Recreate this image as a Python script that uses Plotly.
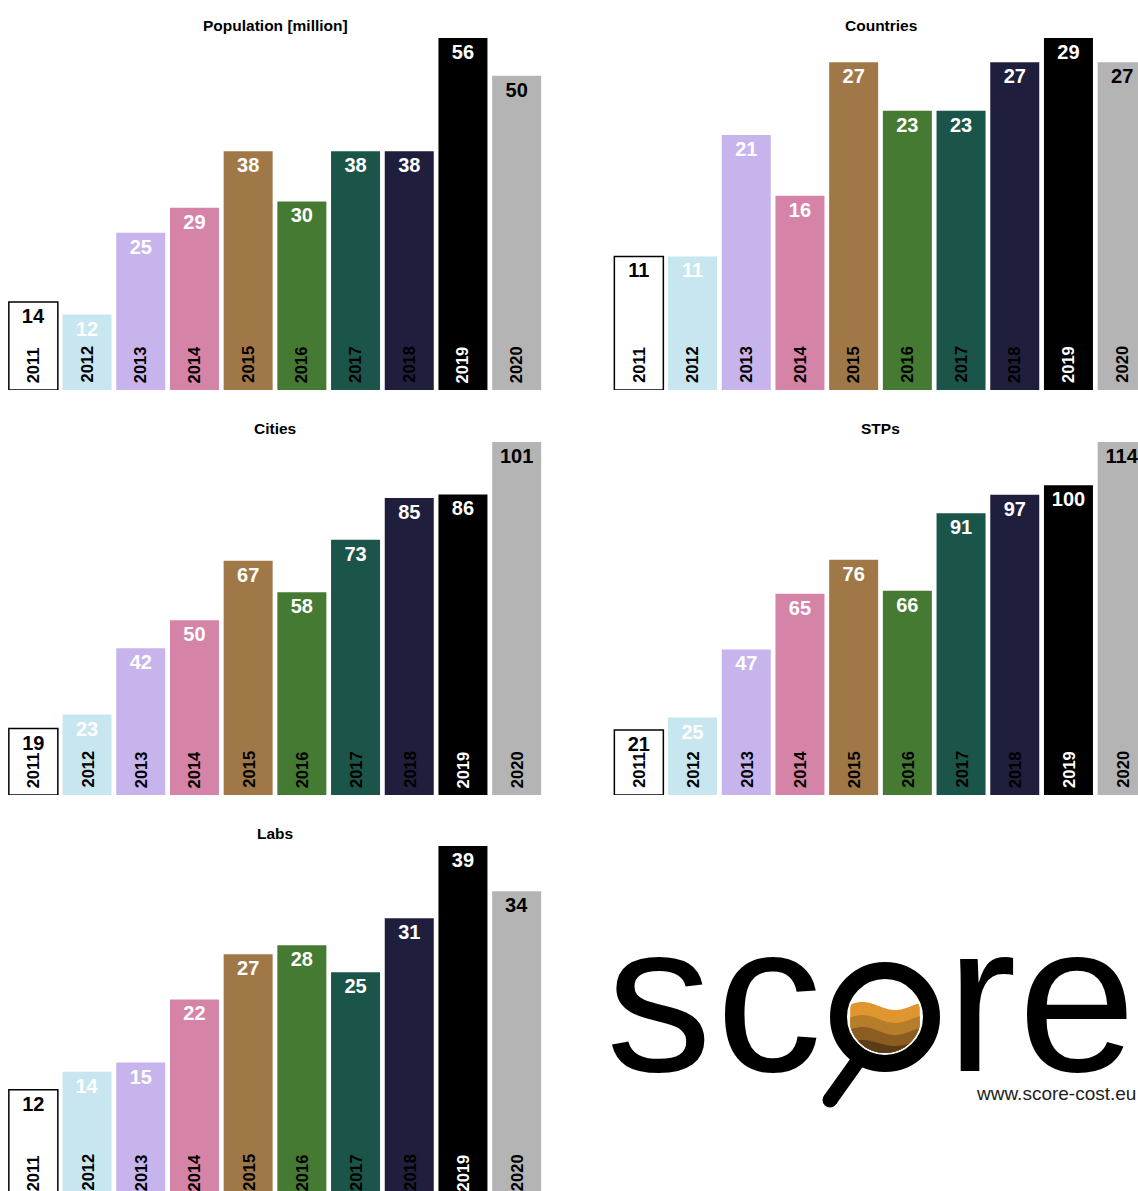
import math
import plotly.graph_objects as go

# ---- data -------------------------------------------------------------
years = ["2011", "2012", "2013", "2014", "2015", "2016", "2017", "2018", "2019", "2020"]
population = [14, 12, 25, 29, 38, 30, 38, 38, 56, 50]
countries = [11, 11, 21, 16, 27, 23, 23, 27, 29, 27]
cities = [19, 23, 42, 50, 67, 58, 73, 85, 86, 101]
stps = [21, 25, 47, 65, 76, 66, 91, 97, 100, 114]
labs = [12, 14, 15, 22, 27, 28, 25, 31, 39, 34]

titles = ["Population [million]", "Countries", "Cities", "STPs", "Labs"]

# ---- styling ----------------------------------------------------------
bar_colors = ["#ffffff", "#c8e6ef", "#c7b4ec", "#d683a8", "#a07848",
              "#457a33", "#1b5449", "#1f1e3d", "#000000", "#b4b4b4"]
value_colors = ["#000000"] + ["#ffffff"] * 8 + ["#000000"]
year_colors = ["#000000"] * 8 + ["#ffffff", "#000000"]
outline_widths = [1.5] + [0] * 9

W, H = 1138, 1191
FONT = "Liberation Sans, Arial, sans-serif"


def px(x):
    return x / W


def py(y):
    return 1 - y / H


# panel geometry (pixels): plot-area left/right, top, value-zero line, x-range end
PITCH = 53.7
left_x0 = 6.5
right_x0 = 612.0
panels = [
    dict(vals=population, x0=left_x0, x1=left_x0 + 10 * PITCH, top=38, bottom=390, xr=9.5),
    dict(vals=countries, x0=right_x0, x1=W, top=38, bottom=390, xr=-0.5 + (W - right_x0) / PITCH),
    dict(vals=cities, x0=left_x0, x1=left_x0 + 10 * PITCH, top=442, bottom=795, xr=9.5),
    dict(vals=stps, x0=right_x0, x1=W, top=442, bottom=795, xr=-0.5 + (W - right_x0) / PITCH),
    dict(vals=labs, x0=left_x0, x1=left_x0 + 10 * PITCH, top=846, bottom=1198, xr=9.5),
]

fig = go.Figure()
annotations = []

for i, (p, title) in enumerate(zip(panels, titles), start=1):
    xa = "x" if i == 1 else f"x{i}"
    ya = "y" if i == 1 else f"y{i}"
    vmax = max(p["vals"])
    bottom_px = min(p["bottom"], H)
    scale = (p["bottom"] - p["top"]) / vmax
    ymin = (p["bottom"] - bottom_px) / scale

    fig.add_trace(go.Bar(
        x=years, y=p["vals"], xaxis=xa, yaxis=ya,
        marker=dict(color=bar_colors, line=dict(color="#000000", width=outline_widths)),
        text=[str(v) for v in p["vals"]],
        textposition="inside", insidetextanchor="end", textangle=0,
        constraintext="none",
        textfont=dict(family=FONT, size=20, color=value_colors, weight="bold"),
        hoverinfo="skip", showlegend=False,
    ))

    xkey = "xaxis" if i == 1 else f"xaxis{i}"
    ykey = "yaxis" if i == 1 else f"yaxis{i}"
    fig.update_layout({
        xkey: dict(domain=[px(p["x0"]), px(p["x1"])], range=[-0.5, p["xr"]],
                   type="category", visible=False, anchor=ya),
        ykey: dict(domain=[py(bottom_px), py(p["top"])], range=[ymin, vmax],
                   visible=False, anchor=xa),
    })

    # year labels written upward inside each bar (category axis -> serial index);
    # anchored on the visible bottom of the axis, shifted to sit just above zero
    shift = 5 - (p["bottom"] - bottom_px)
    for k, (yr, col) in enumerate(zip(years, year_colors)):
        annotations.append(dict(
            x=k, y=ymin, xref=xa, yref=ya, text=f"<b>{yr}</b>", showarrow=False,
            textangle=-90, xanchor="center", yanchor="bottom", yshift=shift,
            font=dict(family=FONT, size=16.5, color=col),
        ))

    # panel title
    annotations.append(dict(
        x=px(p["x0"] + 5 * PITCH), y=py(p["top"] - 13),
        xref="paper", yref="paper", text=f"<b>{title}</b>", showarrow=False,
        xanchor="center", yanchor="middle",
        font=dict(family=FONT, size=15.5, color="#000000"),
    ))

# ---- score logo -------------------------------------------------------
logo_font = dict(family=FONT, size=212, color="#000000")
for ch, cx in [("s", 659), ("c", 769), ("r", 981), ("e", 1077)]:
    annotations.append(dict(
        x=px(cx), y=py(1118), xref="paper", yref="paper", text=ch, showarrow=False,
        xanchor="center", yanchor="bottom", font=logo_font,
    ))
annotations.append(dict(
    x=px(974), y=py(1093), xref="paper", yref="paper", text="www.score-cost.eu",
    showarrow=False, xanchor="left", yanchor="middle",
    font=dict(family=FONT, size=19, color="#222222"),
))

shapes = []
ccx, ccy = 885, 1017


def soil_path(wave_y, amp, r=36):
    top, bot = [], []
    n = 60
    for k in range(n + 1):
        x = ccx - r + 2 * r * k / n
        dx = x - ccx
        h = math.sqrt(max(r * r - dx * dx, 0))
        yt = wave_y + amp * math.sin((x - ccx) / r * math.pi * 1.1 + 0.6)
        yb = ccy + h
        yt = max(yt, ccy - h)
        if yt < yb:
            top.append((x, yt))
            bot.append((x, yb))
    pts = top + bot[::-1]
    return "M " + " L ".join(f"{px(a):.5f},{py(b):.5f}" for a, b in pts) + " Z"


for wave_y, amp, col in [(1006, 4, "#e0962e"), (1019, 4, "#b67d2a"),
                         (1031, 4, "#8c5d21"), (1043, 3, "#5c3c18")]:
    shapes.append(dict(type="path", xref="paper", yref="paper", path=soil_path(wave_y, amp),
                       fillcolor=col, line=dict(width=0)))

# magnifier ring and handle
R = 46.5
shapes.append(dict(type="circle", xref="paper", yref="paper",
                   x0=px(ccx - R), x1=px(ccx + R), y0=py(ccy + R), y1=py(ccy - R),
                   line=dict(color="#000000", width=17), fillcolor="rgba(0,0,0,0)"))
shapes.append(dict(type="line", xref="paper", yref="paper",
                   x0=px(860), y0=py(1058), x1=px(830), y1=py(1100),
                   line=dict(color="#000000", width=15)))
shapes.append(dict(type="circle", xref="paper", yref="paper",
                   x0=px(830 - 7.5), x1=px(830 + 7.5), y0=py(1100 + 7.5), y1=py(1100 - 7.5),
                   line=dict(width=0), fillcolor="#000000"))

fig.update_layout(
    width=W, height=H,
    margin=dict(l=0, r=0, t=0, b=0),
    paper_bgcolor="#ffffff", plot_bgcolor="#ffffff",
    bargap=0.0875,
    annotations=annotations,
    shapes=shapes,
    font=dict(family=FONT),
)

fig.write_html("out.html")
